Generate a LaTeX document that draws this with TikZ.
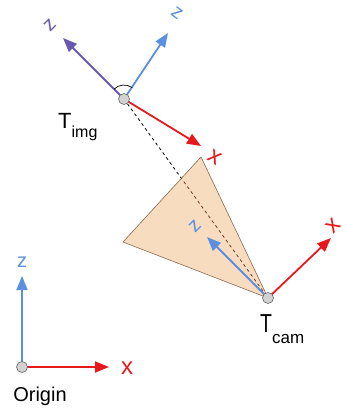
\documentclass[tikz,border=0pt]{standalone}
\usepackage{fontspec}
\setmainfont{Liberation Sans}
\usetikzlibrary{arrows.meta}
\definecolor{axred}{HTML}{E8191C}
\definecolor{axblue}{HTML}{5B8FE0}
\definecolor{axpurple}{HTML}{6A58B0}
\definecolor{peach}{HTML}{F8DCC0}
\definecolor{peachline}{HTML}{8A6A50}
\definecolor{dashbrown}{HTML}{6E3A28}
\tikzset{
  axis/.style={line width=1.8pt,-{Triangle[length=14pt,width=11pt]}},
  lab/.style={font=\fontsize{20}{20}\selectfont,inner sep=0pt},
  xlab/.style={font=\fontsize{24}{24}\selectfont,inner sep=0pt},
  frame/.style={circle,draw=gray!80!black,fill=gray!35,minimum size=11pt,inner sep=0pt,line width=0.6pt},
  tname/.style={inner sep=0pt,anchor=base west},
  dashln/.style={dashed,line width=0.8pt}
}
\begin{document}
\begin{tikzpicture}[x=1pt,y=-1pt]
\useasboundingbox (0,0) rectangle (346,413);
% points
\coordinate (img) at (124,99);
\coordinate (cam) at (268,298);
\coordinate (org) at (22,367);
\coordinate (ipz) at (63,38);
\coordinate (ibz) at (168,33);
\coordinate (irx) at (201,146);
\coordinate (tri1) at (201,157);
\coordinate (tri2) at (123,242);
\coordinate (cz) at (207,237);
\coordinate (cx) at (331,238);
\coordinate (oz) at (22,276);
\coordinate (ox) at (109,367);
% dashed line
\draw[dashln] (img) -- (cam);
% frustum
\draw[draw=peachline,line width=0.6pt,fill=peach] (cam) -- (tri1) -- (tri2) -- cycle;
\begin{scope}
  \clip (cam) -- (tri1) -- (tri2) -- cycle;
  \draw[dashln,dashbrown] (img) -- (cam);
\end{scope}
% T_img axes
\draw[axis,axpurple] (img) -- (ipz);
\draw[axis,axblue] (img) -- (ibz);
\draw[axis,axred] (img) -- (irx);
\draw[line width=0.7pt] ([shift={(-54:14)}]img) arc[start angle=-54,end angle=-135,radius=14];
% T_cam axes
\draw[axis,axblue] (cam) -- (cz);
\draw[axis,axred] (cam) -- (cx);
% Origin axes
\draw[axis,axblue] (org) -- (oz);
\draw[axis,axred] (org) -- (ox);
% frame circles
\node[frame] (nimg) at (img) {};
\node[frame] (ncam) at (cam) {};
\node[frame] (norg) at (org) {};
% axis labels
\node[lab,axpurple,rotate=45] (lpz) at (50,25) {z};
\node[lab,axblue,rotate=-36] (lbz) at (177,13) {z};
\node[xlab,axred,rotate=-32] (lrx) at (215,157) {x};
\node[lab,axblue,rotate=45] (lcz) at (195,226) {z};
\node[xlab,axred,rotate=45] (lcx) at (333,226) {x};
\node[lab,axblue] (loz) at (22,262) {z};
\node[xlab,axred] (lox) at (127,368) {x};
% names
\node[tname] (timg) at (58,128) {\fontsize{22}{22}\selectfont T\raisebox{-9pt}{\fontsize{16}{16}\selectfont img}};
\node[tname] (tcam) at (260,332) {\fontsize{26}{26}\selectfont \scalebox{0.75}[1]{T}\raisebox{-11pt}{\fontsize{17}{17}\selectfont cam}};
\node[lab,anchor=base] (lorg) at (40,401) {Origin};
\end{tikzpicture}
\end{document}
